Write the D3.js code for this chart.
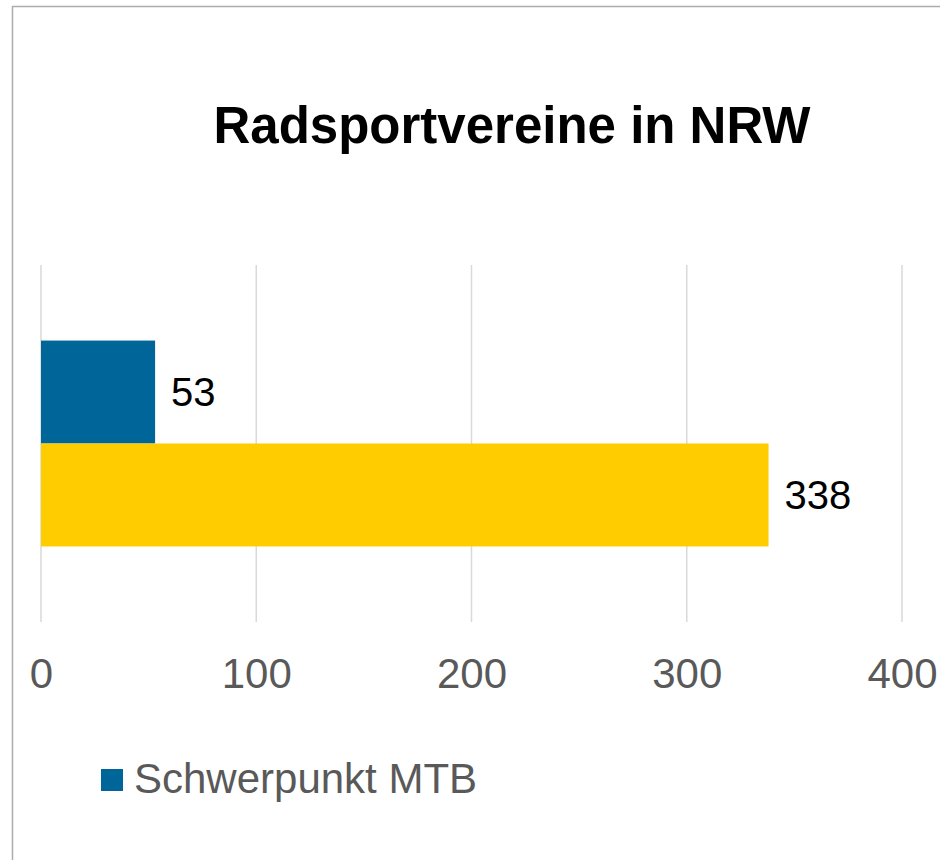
<!DOCTYPE html>
<html>
<head>
<meta charset="utf-8">
<script src="https://cdn.jsdelivr.net/npm/d3@7"></script>
<style>
  body { margin: 0; background: #fff; }
  svg { display: block; font-family: "Liberation Sans", Arial, sans-serif; }
</style>
</head>
<body>
<div id="chart"></div>
<script>
// data
const categories = ["NRW"];
const seriesNames = ["Schwerpunkt MTB", "Radsportvereine gesamt"];
const seriesValues = [53, 338];
const seriesColors = ["#006699", "#FFCC00"];
const tickValues = [0, 100, 200, 300, 400];

const width = 940;
const height = 860;

const svg = d3.select("#chart")
    .append("svg")
    .attr("width", width)
    .attr("height", height);

// chart frame (cut off at the right and bottom)
svg.append("rect")
    .attr("x", 12.5)
    .attr("y", 6.5)
    .attr("width", 1200)
    .attr("height", 1200)
    .attr("fill", "#fff")
    .attr("stroke", "#ADADAD")
    .attr("stroke-width", 1.5);

svg.append("text")
    .attr("x", 512)
    .attr("y", 143)
    .attr("text-anchor", "middle")
    .attr("font-size", 51)
    .attr("font-weight", "bold")
    .attr("fill", "#000")
    .text("Radsportvereine in NRW");

const plot = { top: 265, bottom: 622, left: 41, right: 902 };

const x = d3.scaleLinear()
    .domain([0, 400])
    .range([plot.left, plot.right]);

const yCat = d3.scaleBand()
    .domain(categories)
    .range([plot.top, plot.bottom])
    .paddingInner(0)
    .paddingOuter(0.367);

const ySer = d3.scaleBand()
    .domain(d3.range(seriesValues.length))
    .range([0, yCat.bandwidth()]);

// grid lines
svg.append("g")
    .selectAll("line")
    .data(tickValues)
    .enter()
    .append("line")
    .attr("x1", d => x(d))
    .attr("x2", d => x(d))
    .attr("y1", plot.top)
    .attr("y2", plot.bottom)
    .attr("stroke", "#D9D9D9")
    .attr("stroke-width", 1.5);

// axis labels
const axis = d3.axisBottom(x)
    .tickValues(tickValues)
    .tickSize(0)
    .tickPadding(0);

const axisG = svg.append("g")
    .attr("transform", `translate(0, ${plot.bottom})`)
    .call(axis);
axisG.select(".domain").remove();
axisG.selectAll("text")
    .attr("dy", null)
    .attr("y", 66)
    .attr("font-family", "Liberation Sans, Arial, sans-serif")
    .attr("font-size", 42)
    .attr("fill", "#595959");

// bars
const rows = seriesValues.map((v, i) => ({ i: i, value: v, cat: categories[0] }));

svg.append("g")
    .selectAll("rect")
    .data(rows)
    .enter()
    .append("rect")
    .attr("x", x(0))
    .attr("y", d => yCat(d.cat) + ySer(d.i))
    .attr("width", d => x(d.value) - x(0))
    .attr("height", ySer.bandwidth())
    .attr("fill", d => seriesColors[d.i]);

// value labels
svg.append("g")
    .selectAll("text")
    .data(rows)
    .enter()
    .append("text")
    .attr("x", d => x(d.value) + 16)
    .attr("y", d => yCat(d.cat) + ySer(d.i) + ySer.bandwidth() / 2 + 14)
    .attr("font-size", 40)
    .attr("fill", "#000")
    .text(d => d.value);

// legend (only first entry visible)
const legend = svg.append("g").attr("transform", "translate(101, 769)");
legend.append("rect")
    .attr("width", 22)
    .attr("height", 22)
    .attr("fill", seriesColors[0]);
legend.append("text")
    .attr("x", 33)
    .attr("y", 24)
    .attr("font-size", 42)
    .attr("fill", "#595959")
    .text(seriesNames[0]);
</script>
</body>
</html>
